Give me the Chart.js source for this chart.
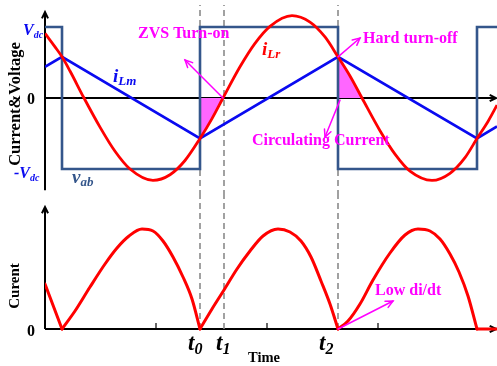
<!DOCTYPE html>
<html>
<head>
<meta charset="utf-8">
<script src="https://cdn.jsdelivr.net/npm/chart.js@4.4.1/dist/chart.umd.min.js"></script>
<style>
  html, body { margin: 0; padding: 0; background: #fff; }
  #wrap { position: relative; width: 497px; height: 366px; }
  #topChart { position: absolute; left: 0; top: 0; }
  #botChart { position: absolute; left: 0; top: 196px; }
</style>
</head>
<body>
<div id="wrap">
  <canvas id="topChart" width="497" height="196"></canvas>
  <canvas id="botChart" width="497" height="170"></canvas>
</div>
<script>
// time axis (arbitrary units), switching instants of v_ab
const switchTimes = [17, 155, 293, 432];
const markTimes = [155, 179, 293];          // t0, t1, t2
const markLabels = ['0', '1', '2'];
const timeTicks = [111, 222, 333];

// upper panel: resonant current i_Lr, magnetizing current i_Lm, bridge voltage v_ab (in Vdc units)
const timeLr = [0, 10, 17, 25, 39, 55, 70, 85, 108, 125, 140, 155, 167, 178, 195, 210, 225, 247, 265, 280, 293, 305, 317, 335, 350, 365, 387, 405, 420, 432, 443, 452];
const iLr = [0.91, 0.72, 0.58, 0.38, 0, -0.41, -0.75, -1.0, -1.16, -1.08, -0.88, -0.57, -0.29, 0, 0.44, 0.77, 1.01, 1.16, 1.07, 0.86, 0.58, 0.31, 0, -0.46, -0.79, -1.03, -1.16, -1.06, -0.84, -0.57, -0.33, -0.1];
const timeLm = [0, 17, 155, 293, 432, 452];
const iLm = [0.44, 0.58, -0.57, 0.58, -0.57, -0.40];
const timeVab = [0, 17, 17, 155, 155, 293, 293, 432, 432, 452];
const vab = [1, 1, -1, -1, 1, 1, -1, -1, 1, 1];
const topTickValues = [1, 0, -1];

// lower panel: rectified current
const timeBot = [0, 17, 30, 45, 60, 72, 84, 97, 108, 118, 128, 138, 147, 155,
  167, 179, 192, 205, 218, 233, 245, 256, 266, 276, 285, 293,
  303, 315, 328, 345, 360, 373, 385, 395, 405, 414, 423, 432, 452];
const iRect = [0.45, 0, 0.18, 0.42, 0.65, 0.81, 0.93, 1.0, 0.98, 0.88, 0.72, 0.52, 0.30, 0,
  0.20, 0.39, 0.60, 0.78, 0.93, 1.0, 0.97, 0.88, 0.72, 0.48, 0.25, 0,
  0.08, 0.25, 0.49, 0.76, 0.94, 1.0, 0.98, 0.90, 0.75, 0.57, 0.33, 0, 0];

const SERIF = '"Times New Roman", "Liberation Serif", serif';
const MAGENTA = '#FF00FF';
const BLUE = '#0A0AF0';
const VAB = '#34568B';
const RED = '#FF0000';

const pts = (xs, ys) => xs.map((t, i) => ({x: t, y: ys[i]}));
const between = (xs, ys, a, b) => pts(xs, ys).filter(p => p.x >= a && p.x <= b);

// split the rectified wave at its zeros so every hump keeps a sharp V at the bottom
function humps(xs, ys) {
  const all = pts(xs, ys), out = [];
  let cur = [all[0]];
  for (let i = 1; i < all.length; i++) {
    cur.push(all[i]);
    if (all[i].y === 0 && i < all.length - 1) { out.push(cur); cur = [all[i]]; }
  }
  if (cur.length > 1) out.push(cur);
  return out;
}

function arrow(ctx, x1, y1, x2, y2, color, w, head) {
  ctx.strokeStyle = color;
  ctx.lineWidth = w;
  ctx.beginPath(); ctx.moveTo(x1, y1); ctx.lineTo(x2, y2); ctx.stroke();
  const a = Math.atan2(y2 - y1, x2 - x1);
  ctx.beginPath();
  ctx.moveTo(x2 - head * Math.cos(a - 0.45), y2 - head * Math.sin(a - 0.45));
  ctx.lineTo(x2, y2);
  ctx.lineTo(x2 - head * Math.cos(a + 0.45), y2 - head * Math.sin(a + 0.45));
  ctx.stroke();
}

function subText(ctx, x, y, main, sub, size, subSize, color) {
  ctx.fillStyle = color;
  ctx.textAlign = 'left';
  ctx.textBaseline = 'alphabetic';
  ctx.font = `italic bold ${size}px ${SERIF}`;
  ctx.fillText(main, x, y);
  const w = ctx.measureText(main).width;
  ctx.font = `italic bold ${subSize}px ${SERIF}`;
  ctx.fillText(sub, x + w, y + subSize * 0.25);
}

function plain(ctx, x, y, s, size, color, align) {
  ctx.fillStyle = color;
  ctx.textAlign = align || 'left';
  ctx.textBaseline = 'alphabetic';
  ctx.font = `bold ${size}px ${SERIF}`;
  ctx.fillText(s, x, y);
}

function rotated(ctx, cx, cy, s, size) {
  ctx.save();
  ctx.translate(cx, cy);
  ctx.rotate(-Math.PI / 2);
  ctx.fillStyle = '#000';
  ctx.textAlign = 'center';
  ctx.textBaseline = 'middle';
  ctx.font = `bold ${size}px ${SERIF}`;
  ctx.fillText(s, 0, 0);
  ctx.restore();
}

function axes(chart, yTop, yBottom) {
  const {ctx, scales: {x, y}} = chart;
  const x0 = x.getPixelForValue(0), y0 = y.getPixelForValue(0);
  const xEnd = x.getPixelForValue(452);
  const yT = y.getPixelForValue(yTop), yB = y.getPixelForValue(yBottom);
  ctx.save();
  ctx.lineCap = 'butt';
  arrow(ctx, x0, yB, x0, yT, '#000', 2, 7);
  arrow(ctx, x0, y0, xEnd - 1, y0, '#000', 2, 7);
  ctx.restore();
}

const dashSets = (lo, hi) => markTimes.map(t => ({
  data: [{x: t, y: lo}, {x: t, y: hi}],
  borderColor: '#8a8a8a', borderWidth: 1.6, borderDash: [6, 4], pointRadius: 0, order: 5
}));

const topDeco = {
  id: 'topDeco',
  beforeDatasetsDraw(chart) { axes(chart, 1.21, -1.3); },
  afterDraw(chart) {
    const {ctx, scales: {x, y}} = chart;
    ctx.save();
    rotated(ctx, 16, 104, 'Current&Voltage', 16.5);
    plain(ctx, 31, y.getPixelForValue(topTickValues[1]) + 6, '0', 16, '#000', 'center');
    subText(ctx, 23, y.getPixelForValue(topTickValues[0]) + 8, 'V', 'dc', 16, 10, BLUE);
    subText(ctx, 14, y.getPixelForValue(topTickValues[2]) + 9, '-V', 'dc', 16, 10, BLUE);
    subText(ctx, 113, 82, 'i', 'Lm', 19, 13, BLUE);
    subText(ctx, 72, 183, 'v', 'ab', 19, 13, VAB);
    subText(ctx, 262, 55, 'i', 'Lr', 19, 13, RED);
    plain(ctx, 138, 38, 'ZVS Turn-on', 16, MAGENTA);
    plain(ctx, 363, 43, 'Hard turn-off', 16, MAGENTA);
    plain(ctx, 252, 145, 'Circulating Current', 16, MAGENTA);
    ctx.lineCap = 'round';
    arrow(ctx, x.getPixelForValue(178), y.getPixelForValue(0), x.getPixelForValue(140), y.getPixelForValue(0.535), MAGENTA, 1.5, 8);
    arrow(ctx, x.getPixelForValue(293), y.getPixelForValue(0.58), x.getPixelForValue(315), y.getPixelForValue(0.845), MAGENTA, 1.5, 8);
    arrow(ctx, x.getPixelForValue(295), y.getPixelForValue(-0.03), x.getPixelForValue(280), y.getPixelForValue(-0.55), MAGENTA, 1.5, 8);
    ctx.restore();
  }
};

const botDeco = {
  id: 'botDeco',
  beforeDatasetsDraw(chart) {
    const {ctx, scales: {x, y}} = chart;
    axes(chart, 1.22, 0);
    ctx.save();
    ctx.strokeStyle = '#000'; ctx.lineWidth = 1.2;
    timeTicks.forEach(t => {
      const px = x.getPixelForValue(t);
      ctx.beginPath(); ctx.moveTo(px, y.getPixelForValue(0)); ctx.lineTo(px, y.getPixelForValue(0) - 6); ctx.stroke();
    });
    ctx.restore();
  },
  afterDraw(chart) {
    const {ctx, scales: {x, y}} = chart;
    ctx.save();
    rotated(ctx, 15, 90, 'Curent', 15);
    plain(ctx, 31, y.getPixelForValue(0) + 7, '0', 16, '#000', 'center');
    const shift = [-12, -8, -19];
    markTimes.forEach((t, i) => {
      subText(ctx, x.getPixelForValue(t) + shift[i], 154, 't', markLabels[i], 23, 16, '#000');
    });
    plain(ctx, 264, 166, 'Time', 14.5, '#000', 'center');
    plain(ctx, 375, 99, 'Low di/dt', 16, MAGENTA);
    ctx.lineCap = 'round';
    arrow(ctx, x.getPixelForValue(293), y.getPixelForValue(0), x.getPixelForValue(348), y.getPixelForValue(0.28), MAGENTA, 1.5, 8);
    ctx.restore();
  }
};

const common = (pad, yMin, yMax) => ({
  responsive: false,
  animation: false,
  devicePixelRatio: 1,
  layout: {padding: pad},
  plugins: {legend: {display: false}, tooltip: {enabled: false}},
  scales: {
    x: {type: 'linear', min: 0, max: 452, display: false},
    y: {type: 'linear', min: yMin, max: yMax, display: false}
  }
});

new Chart(document.getElementById('topChart'), {
  type: 'line',
  data: {
    datasets: [
      {label: 'iLr', data: pts(timeLr, iLr), borderColor: RED, borderWidth: 2.8, pointRadius: 0, cubicInterpolationMode: 'monotone', order: 1},
      {label: 'iLm', data: pts(timeLm, iLm), borderColor: BLUE, borderWidth: 2.6, pointRadius: 0, order: 2},
      {label: 'vab', data: pts(timeVab, vab), borderColor: VAB, borderWidth: 2.6, pointRadius: 0, borderJoinStyle: 'miter', order: 3},
      ...dashSets(-1.38, 1.31),
      {label: 'zvs', data: between(timeLr, iLr, markTimes[0], 178), borderWidth: 0, pointRadius: 0, cubicInterpolationMode: 'monotone', fill: 'origin', backgroundColor: '#FF66FF', order: 8},
      {label: 'circ', data: between(timeLr, iLr, markTimes[2], 317), borderWidth: 0, pointRadius: 0, cubicInterpolationMode: 'monotone', fill: 'origin', backgroundColor: '#FF66FF', order: 8}
    ]
  },
  options: common({left: 45, right: 0, top: 5, bottom: 0}, -1.38, 1.31),
  plugins: [topDeco]
});

new Chart(document.getElementById('botChart'), {
  type: 'line',
  data: {
    datasets: [
      ...humps(timeBot, iRect).map(seg => ({
        label: 'i', data: seg, borderColor: RED, borderWidth: 3, pointRadius: 0,
        cubicInterpolationMode: 'monotone', borderCapStyle: 'round', borderJoinStyle: 'round', order: 1
      })),
      ...dashSets(0, 1.33)
    ]
  },
  options: common({left: 45, right: 0, top: 0, bottom: 32}, -0.05, 1.33),
  plugins: [botDeco]
});
</script>
</body>
</html>
